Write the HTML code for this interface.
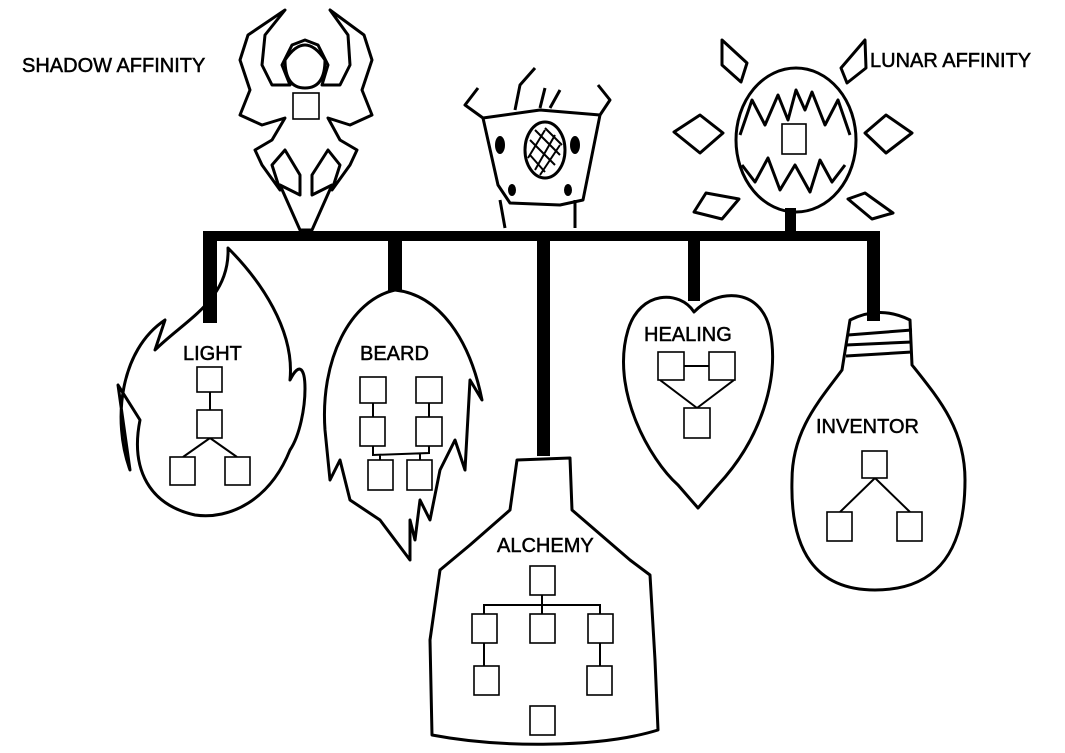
<!DOCTYPE html>
<html><head><meta charset="utf-8"><style>
html,body{margin:0;padding:0;background:#fff;width:1065px;height:753px;overflow:hidden}
svg{display:block}
text{font-family:"Liberation Sans",sans-serif;font-size:20px;fill:#000;stroke:#000;stroke-width:0.5}
.o{fill:none;stroke:#000;stroke-width:3;stroke-linejoin:round}
.t{fill:none;stroke:#000;stroke-width:2}
.s{fill:#fff;stroke:#000;stroke-width:1.6}
</style></head><body>
<svg width="1065" height="753" viewBox="0 0 1065 753">
<g fill="#000">
<rect x="203" y="231" width="677" height="10"/>
<rect x="203" y="231" width="14" height="92"/>
<rect x="388" y="231" width="14" height="60"/>
<rect x="537" y="231" width="13" height="225"/>
<rect x="688" y="231" width="12" height="70"/>
<rect x="867" y="231" width="13" height="90"/>
<rect x="785" y="208" width="11" height="26"/>
</g>
<text x="22" y="72">SHADOW AFFINITY</text>
<text x="870" y="67">LUNAR AFFINITY</text>

<!-- shadow figure -->
<path class="o" d="M285,10 L248,35 L240,60 L250,90 L240,115 L262,125 L285,118 L272,140 L255,150 L262,165 L280,190 L272,165 L285,150 L300,175 L300,195 L280,185 L300,230 L312,230 L332,185 L312,195 L312,175 L328,150 L340,165 L332,190 L350,165 L357,150 L340,140 L328,118 L350,125 L372,115 L362,90 L372,60 L364,35 L330,10 L348,35 L350,65 L340,85 L322,85 L328,65 L318,45 L305,40 L292,45 L282,65 L290,85 L272,85 L262,65 L265,35 Z"/>
<path class="o" d="M285,60 Q305,30 325,60 Q325,88 305,88 Q285,88 285,60 Z"/>
<rect class="s" x="293" y="93" width="26" height="26"/>

<!-- furnace -->
<path class="o" d="M483,118 L540,110 L600,115 L583,200 L560,205 L510,203 L498,185 Z"/>
<path class="o" d="M483,118 L465,105 L478,88 M600,115 L610,100 L598,85 M515,110 L520,85 L535,68 M540,108 L545,88 M550,108 L560,90 M500,200 L505,228 M575,200 L575,228"/>
<ellipse class="o" cx="545" cy="150" rx="20" ry="28"/>
<path class="t" d="M530,140 L555,165 M535,130 L560,155 M545,128 L562,145 M530,155 L545,172 M555,135 L535,170 M560,145 L540,175 M545,130 L528,158"/>
<ellipse cx="500" cy="145" rx="5" ry="9" fill="#000"/><ellipse cx="575" cy="145" rx="5" ry="9" fill="#000"/>
<ellipse cx="512" cy="190" rx="4" ry="6" fill="#000"/><ellipse cx="568" cy="190" rx="4" ry="6" fill="#000"/>

<!-- lunar -->
<ellipse class="o" cx="796" cy="140" rx="60" ry="72"/>
<path class="o" d="M740,135 L752,100 L765,125 L778,95 L788,120 L796,90 L805,110 L812,92 L825,125 L838,100 L850,135 M742,165 L755,182 L768,158 L780,190 L795,165 L810,192 L820,160 L832,182 L845,165"/>
<rect class="s" x="782" y="124" width="24" height="30"/>
<path class="o" d="M674,132 L700,115 L723,133 L700,153 Z M865,133 L886,115 L912,133 L886,153 Z M694,212 L706,193 L739,199 L722,219 Z M848,199 L865,193 L893,213 L872,219 Z M722,40 L747,63 L741,82 L722,65 Z M865,40 L866,68 L847,83 L841,68 Z"/>

<!-- light flame -->
<path class="o" d="M228,248 C260,280 295,330 290,380 C310,340 310,420 290,450 C270,500 230,520 195,515 C150,505 130,470 140,420 L118,385 L130,470 C112,420 120,350 165,320 L155,350 C185,320 230,300 228,248 Z"/>
<text x="183" y="360">LIGHT</text>
<path class="t" d="M210,392 L210,410 M210,438 L183,457 M210,438 L237,457"/>
<rect class="s" x="197" y="367" width="25" height="25"/>
<rect class="s" x="197" y="410" width="25" height="28"/>
<rect class="s" x="170" y="457" width="25" height="28"/>
<rect class="s" x="225" y="457" width="25" height="28"/>

<!-- beard -->
<path class="o" d="M395,290 C440,295 470,340 482,400 L470,380 L465,470 L455,440 L440,470 L430,520 L420,500 L415,540 L410,520 L410,560 L380,520 L350,500 L340,460 L330,480 L325,430 C320,360 350,300 395,290 Z"/>
<text x="360" y="360">BEARD</text>
<path class="t" d="M373,403 L373,417 M429,403 L429,417 M373,446 L373,455 L429,453 L429,446 M380,455 L380,460 M420,453 L420,460"/>
<rect class="s" x="360" y="377" width="26" height="26"/>
<rect class="s" x="416" y="377" width="26" height="26"/>
<rect class="s" x="360" y="417" width="25" height="29"/>
<rect class="s" x="416" y="417" width="26" height="29"/>
<rect class="s" x="368" y="460" width="25" height="30"/>
<rect class="s" x="407" y="460" width="25" height="30"/>

<!-- alchemy bottle -->
<path class="o" d="M517,460 L570,458 L572,510 L630,560 L650,575 L655,660 L658,730 C600,748 500,748 432,735 L430,640 L440,570 L470,545 L510,510 Z"/>
<text x="497" y="552">ALCHEMY</text>
<path class="t" d="M542,595 L542,606 M484,614 L484,605 L600,605 L600,614 M542,606 L542,614 M484,643 L484,666 M600,643 L600,666"/>
<rect class="s" x="530" y="566" width="25" height="29"/>
<rect class="s" x="472" y="614" width="25" height="29"/>
<rect class="s" x="530" y="614" width="25" height="29"/>
<rect class="s" x="588" y="614" width="25" height="29"/>
<rect class="s" x="474" y="666" width="25" height="29"/>
<rect class="s" x="587" y="666" width="25" height="29"/>
<rect class="s" x="530" y="706" width="25" height="29"/>

<!-- heart -->
<path class="o" d="M694,312 C680,290 640,290 628,330 C610,390 650,460 678,485 L698,508 L718,485 C760,440 780,380 770,330 C760,285 715,290 694,312 Z"/>
<text x="644" y="341">HEALING</text>
<path class="t" d="M684,366 L709,366 M660,380 L697,408 M734,380 L697,408"/>
<rect class="s" x="658" y="352" width="26" height="28"/>
<rect class="s" x="709" y="352" width="26" height="28"/>
<rect class="s" x="684" y="408" width="26" height="30"/>

<!-- bulb -->
<path class="o" d="M850,320 C870,310 890,310 910,320 L912,365 C940,400 965,430 965,480 C965,560 930,590 875,590 C815,590 790,550 792,480 C792,430 820,400 842,370 Z"/>
<path class="o" d="M848,335 L912,330 M846,345 L912,342 M846,356 L912,352"/>
<text x="816" y="433">INVENTOR</text>
<path class="t" d="M875,478 L840,512 M875,478 L910,512"/>
<rect class="s" x="862" y="451" width="25" height="27"/>
<rect class="s" x="827" y="512" width="25" height="29"/>
<rect class="s" x="897" y="512" width="25" height="29"/>
</svg>
</body></html>
